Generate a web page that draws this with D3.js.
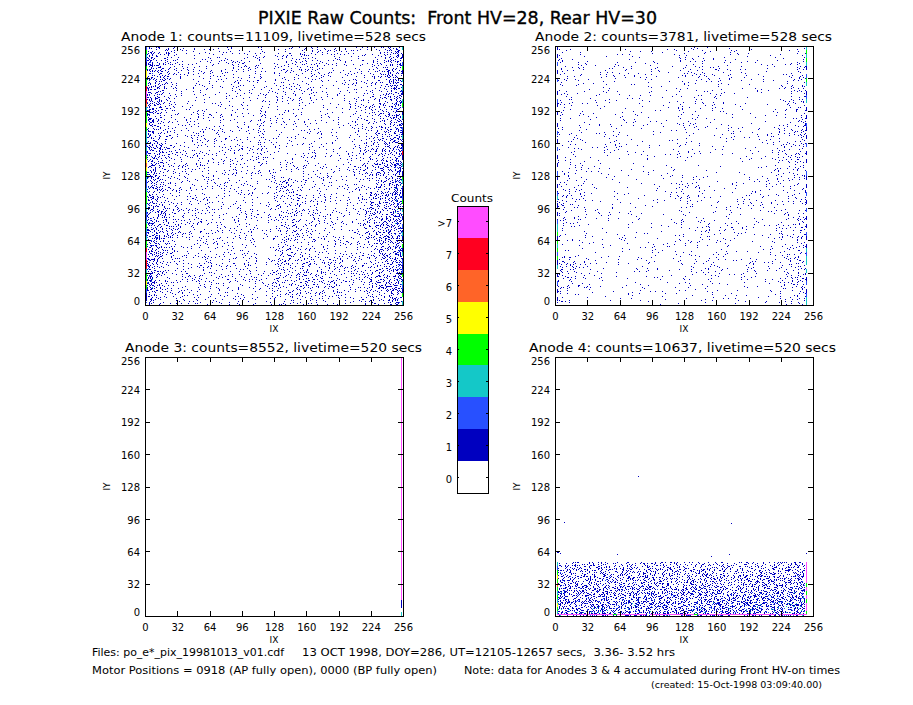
<!DOCTYPE html>
<html>
<head>
<meta charset="utf-8">
<script src="https://cdn.jsdelivr.net/npm/d3@7"></script>
<style>
html,body{margin:0;padding:0;background:#fff}
svg{display:block}
text{font-family:"DejaVu Sans",sans-serif;fill:#000;text-rendering:optimizeSpeed;white-space:pre}
.domain,.tick line{stroke:#000;stroke-width:1;shape-rendering:crispEdges}
.tick text{font-family:"DejaVu Sans",sans-serif;font-size:10px}
</style>
</head>
<body>
<div id="chart"></div>
<script>
// NOTE: the individual pixels (about 30000 dots) are not transcribed one by one.
// The arrays below hold the dot density class for
// each block (hex digit, 1 = about 2% of the block's pixels, f = about 50%); a fixed stipple
// texture renders that density. Isolated dots and the hot edge strips are read directly.

const ixTicks = [0, 32, 64, 96, 128, 160, 192, 224, 256];
const iyTicks = [0, 32, 64, 96, 128, 160, 192, 224, 256];
const countLabels = [">7", "7", "6", "5", "4", "3", "2", "1", "0"];
const countColors = ["#ff4cff", "#ff0020", "#ff6428", "#ffff00", "#00ff00", "#14c8c8", "#2850ff", "#0000c0", "#ffffff"];
// colour of a strip cell, indexed by count class 0..8
const classColors = ["#ffffff", "#0000c0", "#2850ff", "#14c8c8", "#00ff00", "#ffff00", "#ff6428", "#ff0020", "#ff4cff"];

const panelTitles = [
  "Anode 1: counts=11109, livetime=528 secs",
  "Anode 2: counts=3781, livetime=528 secs",
  "Anode 3: counts=8552, livetime=520 secs",
  "Anode 4: counts=10637, livetime=520 secs"
];

// density rows, top to bottom; each row: 32 blocks of 8 IX
const anode1Density = [
  "b9873133 44434440 45565544 4543468a",
  "b9874433 33345341 56565443 4444579a",
  "ca862133 33243352 45444333 3344679b",
  "ca753323 23233262 33333232 2345589c",
  "c9643343 23233272 22232323 2345689c",
  "c9653343 34343362 22333323 2345789d",
  "ca764444 34344472 22333333 3346889d",
  "b9755444 34343463 23333332 3446899d",
  "ca654434 34433313 67655443 3345789e",
  "b9543444 34333413 66766433 2246899e",
  "da866445 44443413 67766543 3347899e",
  "db975434 44443313 67765543 33489abd",
  "ca753344 34433312 66655433 4335899d",
  "c9534445 44444313 67677565 5456789d",
  "e9654554 44544424 77777666 6667899e",
  "c7444453 44343214 66655545 4445679c"
];
const anode2Density = [
  "32231011 11111113 22221221 11112135",
  "43342222 23232123 44433223 12212357",
  "43232122 12121114 22222212 22113467",
  "32211211 11111114 12222111 11113468",
  "21121211 22221113 22222211 22123368",
  "32231232 11211122 21122222 22233457",
  "32311123 22221112 22111111 12233458",
  "33221111 11121121 11112111 12233468",
  "43322112 11122124 33322121 22233468",
  "55432111 22211124 32212222 22233348",
  "43221221 12211113 22222321 22223368",
  "32221112 21221113 22333332 22224567",
  "32112211 11112122 32112211 11223457",
  "76543212 11222112 23333222 32334568",
  "65343211 21122213 32232112 21345678",
  "53211011 12211102 11121111 11232348"
];
const anode4Density = [
  "a9999899 99889988 79999889 99899a90",
  "ba9999a9 a99a9998 899a9998 899aaab0",
  "cbaaaabb 9baaaa98 aaaaaa9a 9aabbbc0",
  "dcbbbbbb bbbbbba9 bbbbbbaa abbbbcd0",
  "edccccbb ccccccca ccddcccc cdddcee0",
  "feddeedd deddcdcb dddedddd deeeeff0",
  "ffeeffee deeeeedc defedeee efeeeff0"
];
// upper IY edge of each density row of Anode 4 (and 0 as the last lower edge)
const anode4RowEdges = [53, 48, 40, 32, 24, 16, 8, 0];

// isolated dots of Anode 4, [IX, IY]
const anode4Dots = [[9, 93], [82, 138], [175, 92], [2, 63], [3, 63], [5, 62], [62, 61], [155, 59], [173, 61], [249, 62]];

// hot strips along the detector edges, count class per 4 IY, top to bottom (0 = empty)
const anode1LeftStrip  = "2432145544788763444543332324565432234443322343234478877344542110";
const anode1RightStrip = "3010241030310340130021301271030143011240301020310413021240321403";
const anode2LeftStrip  = "1010201020010210100102010201010210102301010233414342413010201010";
const anode2RightStrip = "3434310243012301010210102010100210102010201010210132330301201233";
const anode3RightStrip = "8888888888888888888888888888888888888888888888888888888888881103";
const anode4LeftStrip  = "3245464343543";
const anode4RightStrip = "8888848484884";
// count class per 4 IX along the bottom of Anode 4
const anode4BottomStrip = "88888888888888488888880888888888884888888888888888888808888888";

const fileLine1 = "Files: po_e*_pix_19981013_v01.cdf";
const fileLine2 = "13 OCT 1998, DOY=286, UT=12105-12657 secs,  3.36- 3.52 hrs";
const motorLine = "Motor Positions = 0918 (AP fully open), 0000 (BP fully open)";
const noteLine = "Note: data for Anodes 3 & 4 accumulated during Front HV-on times";
const createdLine = "(created: 15-Oct-1998 03:09:40.00)";
const mainTitle = "PIXIE Raw Counts:  Front HV=28, Rear HV=30";

// stipple texture: hex digit = density step at which the pixel turns on
const stippleTile = [
"a3.....7e...1c5.......92f.b..........6d0",
".....c2..8........f3a..6.1.e.....7b.d...",
"e1...........b64..d7...0.........c9..3f.",
"...58.....f.3....a2...........e5b...4d..",
"1c.........7a6.......d4..90b.........7..",
".....c2f........8...3.e1......2a.c..5...",
"1f8......e..3a.....6....94.d......b.7..e",
"...3d.......6.2..9.....0c...f1.........5",
".4...09..82a.....b...........7.4d...5...",
"2.....ae......1fc.6.....3....e....1b8...",
"...79...c.....a.3...7f...90...........5c",
"6.....2e.d...4......b.2.8.d.....1..b..3.",
"...a9.....06...f.....5.c.......6e..0....",
"e.a..4....d.f7.....3c....8..2..1.......e",
"....5b.4...28.............15.e..7..ab..9",
"d....3...f..c7....6a.0...2..d1.......54.",
"......6..2....7..0.e.8...d...2cb....6..f",
"3..e.a....4......1a5.3....e8...49....c..",
"...07.18.d.b.6.....9.0.....c7..3...a25..",
".d6........f.3...f2.d7b...5..1.....e..8.",
"9.......2c4...a8...c.......14.9..f6.0...",
"..b3.....7...e5.....1.4.e6f...........d.",
"2.......c...3...0.a8..........0b...7.6..",
"...5..3...c.....9.d..b2...e..4.1.....a.7",
"f........9d........5.86...3..a...d2...4.",
".....2.4a.c1.......eb.79.........07..3..",
"d..6...2.......f.c.7.a...d..2.......e4..",
"...b.......1a..5...e....3...f..b.3....9.",
"6c....e7...b2..............d0.6....a....",
"........5..9..f..3d.c...8.e.........6.d.",
"c8......a...1...7...c2....6...a.b8...3..",
"..5.1d.....f2........b.04.......a..9....",
"...e.....6...c..d..3.......5.f.8..4.e7..",
"b2.....9...0.......f6...c.1.8..........6",
"...c.a...e...54.........d0.f.9....1.a...",
".8....1.37......d2........6....c..e.....",
"......c.....e...5.9b.....8..d.....72..f.",
"4..b.......82..c...7.a..........1.....6.",
"...1.f9.3......e...........d...5b.2....c",
"7.......c.d...a...4...e.0...8.f.....3..."
];

const W = 913, H = 705;
const svg = d3.select("#chart").append("svg").attr("width", W).attr("height", H).attr("viewBox", `0 0 ${W} ${H}`);
const defs = svg.append("defs");
const T = stippleTile.length;

function dotColor(v) {
  if (v >= 15) return classColors[4];
  if (v >= 13) return classColors[3];
  if (v >= 10) return classColors[2];
  return classColors[1];
}
const tileDots = [];
stippleTile.forEach((line, r) => {
  for (let c = 0; c < line.length; c++) {
    const v = parseInt(line[c], 16);
    if (!isNaN(v)) tileDots.push({ c, r, v });
  }
});
d3.range(1, 17).forEach(level => {
  const p = defs.append("pattern").attr("id", "stip" + level)
    .attr("patternUnits", "userSpaceOnUse").attr("width", T).attr("height", T);
  p.selectAll("rect").data(tileDots.filter(d => d.v < level)).join("rect")
    .attr("x", d => d.c).attr("y", d => d.r).attr("width", 1).attr("height", 1)
    .attr("fill", d => dotColor(d.v)).attr("shape-rendering", "crispEdges");
});

const panels = [
  { x0: 145, x1: 403, y0: 305, y1: 46, titleX: [121, 426], titleY: 41, rows: anode1Density, ixRange: [0, 256],
    vStrips: [{ ix: 1, s: anode1LeftStrip, top: 256 }, { ix: 255, s: anode1RightStrip, top: 256 }] },
  { x0: 555, x1: 813, y0: 305, y1: 46, titleX: [535, 832], titleY: 41, rows: anode2Density, ixRange: [2, 249],
    vStrips: [{ ix: 2, s: anode2LeftStrip, top: 256 }, { ix: 249, s: anode2RightStrip, top: 256 }] },
  { x0: 145, x1: 403, y0: 616, y1: 357, titleX: [125, 422], titleY: 352, rows: [], ixRange: [0, 256],
    vStrips: [{ ix: 254, s: anode3RightStrip, top: 256 }] },
  { x0: 555, x1: 813, y0: 616, y1: 357, titleX: [529, 836], titleY: 352, rows: anode4Density, ixRange: [2, 249],
    edges: anode4RowEdges, dots: anode4Dots, bottom: anode4BottomStrip,
    vStrips: [{ ix: 2, s: anode4LeftStrip, top: 53 }, { ix: 249, s: anode4RightStrip, top: 53 }] }
];

function fitText(sel, x0, x1, y, str, size) {
  return sel.append("text").attr("x", x0).attr("y", y).attr("font-size", size)
    .attr("textLength", x1 - x0).attr("lengthAdjust", "spacingAndGlyphs").text(str);
}

panels.forEach((pn, idx) => {
  const x = d3.scaleLinear().domain([0, 256]).range([pn.x0, pn.x1]);
  const y = d3.scaleLinear().domain([0, 256]).range([pn.y0, pn.y1]);
  const g = svg.append("g");

  // stippled density blocks; each block shows a different part of the tile,
  // denser classes add a second stipple layer
  const edges = pn.edges || d3.range(16, -1, -1).map(k => k * 16);
  const cells = [];
  pn.rows.forEach((row, r) => {
    row.replace(/ /g, "").split("").forEach((ch, c) => {
      const level = parseInt(ch, 16);
      if (!level) return;
      const a = Math.max(c * 8, pn.ixRange[0]), b = Math.min((c + 1) * 8, pn.ixRange[1]);
      if (b <= a) return;
      cells.push({ level, a, b, top: edges[r], bot: edges[r + 1],
        dx: (c * 17 + r * 11 + idx * 13) % T, dy: (c * 23 + r * 7 + idx * 5) % T });
      if (level >= 7) cells.push({ level: level - 6, a, b, top: edges[r], bot: edges[r + 1],
        dx: (c * 29 + r * 19 + idx * 3 + 7) % T, dy: (c * 13 + r * 31 + idx * 11 + 21) % T });
    });
  });
  g.append("g").selectAll("rect").data(cells).join("rect")
    .attr("transform", d => `translate(${d.dx},${d.dy})`)
    .attr("x", d => Math.round(x(d.a)) - d.dx)
    .attr("y", d => Math.round(y(d.top)) - d.dy)
    .attr("width", d => Math.round(x(d.b)) - Math.round(x(d.a)))
    .attr("height", d => Math.round(y(d.bot)) - Math.round(y(d.top)))
    .attr("fill", d => `url(#stip${d.level})`)
    .attr("shape-rendering", "crispEdges");

  // edge strips
  pn.vStrips.forEach(st => {
    const sc = st.s.split("").map((ch, i) => ({ cls: +ch, i })).filter(d => d.cls > 0);
    g.append("g").selectAll("rect").data(sc).join("rect")
      .attr("x", Math.round(x(st.ix)))
      .attr("y", d => Math.round(y(st.top - d.i * 4)))
      .attr("width", 1)
      .attr("height", d => Math.round(y(st.top - (d.i + 1) * 4)) - Math.round(y(st.top - d.i * 4)))
      .attr("fill", d => classColors[d.cls])
      .attr("shape-rendering", "crispEdges");
  });
  if (pn.bottom) {
    const sc = pn.bottom.split("").map((ch, i) => ({ cls: +ch, i })).filter(d => d.cls > 0);
    g.append("g").selectAll("rect").data(sc).join("rect")
      .attr("x", d => Math.round(x(2 + d.i * 4)))
      .attr("y", Math.round(y(2)))
      .attr("width", d => Math.round(x(2 + (d.i + 1) * 4)) - Math.round(x(2 + d.i * 4)))
      .attr("height", 1)
      .attr("fill", d => classColors[d.cls])
      .attr("shape-rendering", "crispEdges");
  }
  if (pn.dots) {
    g.append("g").selectAll("rect").data(pn.dots).join("rect")
      .attr("x", d => Math.round(x(d[0]))).attr("y", d => Math.round(y(d[1])))
      .attr("width", 1).attr("height", 1).attr("fill", classColors[1])
      .attr("shape-rendering", "crispEdges");
  }

  // axes, ticks pointing inward
  const bottom = d3.axisBottom(x).tickValues(ixTicks).tickSize(-5).tickPadding(8).tickSizeOuter(0);
  g.append("g").attr("transform", `translate(0,${pn.y0})`).call(bottom);
  const left = d3.axisLeft(y).tickValues(iyTicks).tickSize(-5).tickPadding(5).tickSizeOuter(0);
  const gl = g.append("g").attr("transform", `translate(${pn.x0},0)`).call(left);
  gl.selectAll(".tick text").attr("dy", d => d === 0 ? "-0.08em" : d === 256 ? "0.72em" : "0.42em");
  g.append("g").attr("transform", `translate(0,${pn.y1})`)
    .call(d3.axisTop(x).tickValues(ixTicks).tickSize(-5).tickSizeOuter(0).tickFormat(""));
  g.append("g").attr("transform", `translate(${pn.x1},0)`)
    .call(d3.axisRight(y).tickValues(iyTicks).tickSize(-5).tickSizeOuter(0).tickFormat(""));

  // labels
  fitText(svg, pn.titleX[0], pn.titleX[1], pn.titleY, panelTitles[idx], 13);
  svg.append("text").attr("x", (pn.x0 + pn.x1) / 2).attr("y", pn.y0 + 27)
    .attr("text-anchor", "middle").attr("font-size", 9).text("IX");
  svg.append("text").attr("transform", `translate(${pn.x0 - 35},${(pn.y0 + pn.y1) / 2}) rotate(-90)`)
    .attr("text-anchor", "middle").attr("font-size", 9).text("IY");
});

// colour bar
const barY = d3.scaleBand().domain(countLabels).range([206, 493]);
const bar = svg.append("g");
bar.selectAll("rect").data(countLabels).join("rect")
  .attr("x", 457).attr("width", 31)
  .attr("y", d => Math.round(barY(d))).attr("height", d => Math.round(barY(d) + barY.bandwidth()) - Math.round(barY(d)))
  .attr("fill", (d, i) => countColors[i]).attr("shape-rendering", "crispEdges");
const barLeft = bar.append("g").attr("transform", "translate(457,0)")
  .call(d3.axisLeft(barY).tickSize(-2).tickPadding(5).tickSizeOuter(0));
barLeft.selectAll(".tick text").attr("dy", "0.55em");
bar.append("g").attr("transform", "translate(488,0)")
  .call(d3.axisRight(barY).tickSize(-2).tickSizeOuter(0).tickFormat(""));
bar.append("rect").attr("x", 457).attr("y", 206).attr("width", 31).attr("height", 287)
  .attr("fill", "none").attr("stroke", "#000").attr("shape-rendering", "crispEdges");
fitText(svg, 451, 493, 202, "Counts", 11);

// title and footer
fitText(svg, 258, 657, 24, mainTitle, 17).attr("stroke", "#000").attr("stroke-width", 0.35);
fitText(svg, 92, 284, 656, fileLine1, 10);
fitText(svg, 302, 675, 656, fileLine2, 10);
fitText(svg, 92, 437, 674, motorLine, 10);
fitText(svg, 464, 840, 674, noteLine, 10);
fitText(svg, 651, 822, 688, createdLine, 8.5);
</script>
</body>
</html>
